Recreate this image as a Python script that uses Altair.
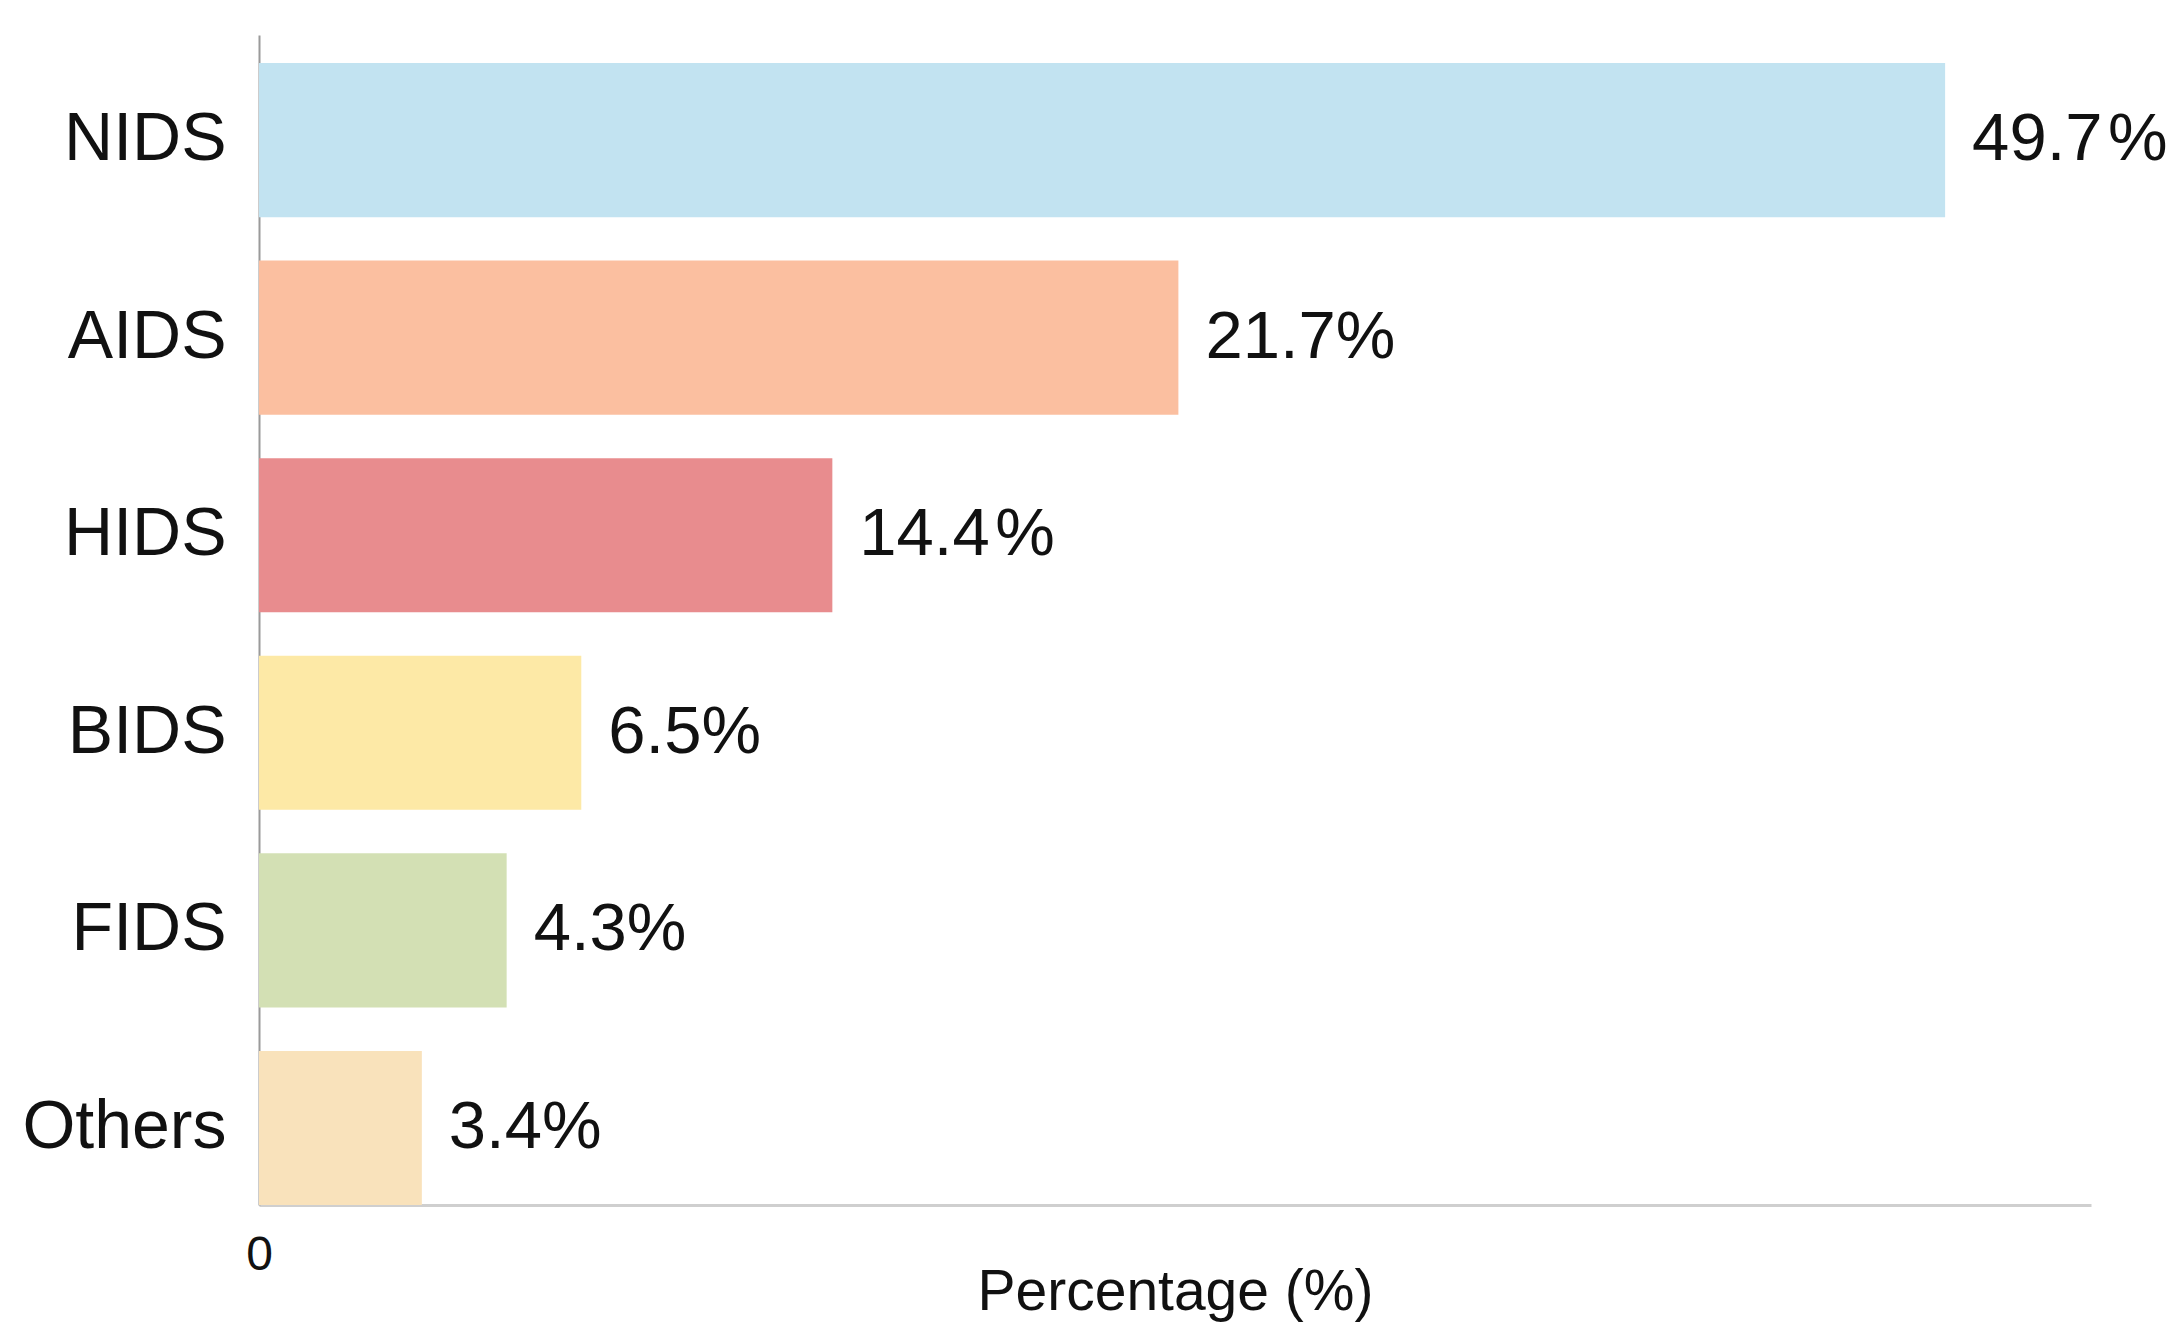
import altair as alt
import pandas as pd

# Data
categories = ["NIDS", "AIDS", "HIDS", "BIDS", "FIDS", "Others"]
percentages = [49.7, 21.7, 14.4, 6.5, 4.3, 3.4]
label_texts = ["49.7\u200a%", "21.7%", "14.4\u200a%", "6.5%", "4.3%", "3.4%"]
# bar lengths as drawn in the picture (same units as the axis, bars are not drawn to scale)
bar_lengths = [49.7, 27.1, 16.9, 9.5, 7.3, 4.8]
colors = ["#C2E3F1", "#FBBFA0", "#E88C8E", "#FDE9A6", "#D3E0B4", "#F9E2BB"]
x_ticks = [0]

df = pd.DataFrame({
    "category": categories,
    "percentage": percentages,
    "label": label_texts,
    "length": bar_lengths,
})

FONT = "Liberation Sans"

y_enc = alt.Y(
    "category:N",
    sort=categories,
    scale=alt.Scale(paddingInner=0.22, paddingOuter=0.071, align=1),
    axis=alt.Axis(
        title=None,
        labelFontSize=68,
        labelFont=FONT,
        labelColor="#111111",
        labelPadding=33,
        labelLimit=0,
        ticks=False,
        tickSize=0,
        domainColor="#9a9a9a",
        domainWidth=2,
    ),
)

x_enc = alt.X(
    "length:Q",
    scale=alt.Scale(domain=[0, 54], nice=False, zero=True),
    axis=alt.Axis(
        values=x_ticks,
        title="Percentage (%)",
        grid=False,
        ticks=False,
        tickSize=0,
        labelFlush=False,
        labelFontSize=48,
        labelFont=FONT,
        labelColor="#111111",
        labelPadding=26,
        titleFontSize=57,
        titleFont=FONT,
        titleFontWeight="normal",
        titleColor="#111111",
        titleY=104,
        titleBaseline="alphabetic",
        domainColor="#cfcfcf",
        domainWidth=3,
    ),
)

base = alt.Chart(df)

bars = base.mark_bar().encode(
    x=x_enc,
    y=y_enc,
    color=alt.Color(
        "category:N",
        scale=alt.Scale(domain=categories, range=colors),
        legend=None,
    ),
)

text = base.mark_text(
    align="left",
    baseline="middle",
    dx=27,
    fontSize=67,
    font=FONT,
    color="#111111",
).encode(
    x=alt.X("length:Q"),
    y=alt.Y("category:N", sort=categories),
    text="label:N",
)

chart = (
    (bars + text)
    .properties(
        width=1832,
        height=1170,
        autosize=alt.AutoSizeParams(type="none"),
        padding={"left": 251, "top": 27, "right": 84, "bottom": 130},
    )
    .configure_view(stroke=None)
)

chart.save("out.html", embed_options={"renderer": "svg", "actions": False})
